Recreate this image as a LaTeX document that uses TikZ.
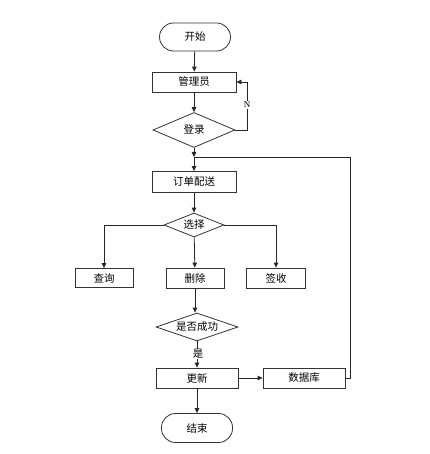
\documentclass[tikz,border=0pt]{standalone}
\usepackage{fontspec}
\newfontfamily\cjk{Noto Sans CJK SC}
\newfontfamily\latinserif{Liberation Serif}
\usetikzlibrary{arrows.meta,shapes.geometric}

\begin{document}
\begin{tikzpicture}[x=1pt, y=-1pt, font=\cjk\fontsize{10.5}{12}\selectfont,
    >={Triangle[length=5pt,width=4.5pt]}, line width=0.8pt,
    box/.style={draw=black!80, minimum width=84pt, minimum height=20pt, inner sep=0pt},
    term/.style={draw=black!80, rounded corners=14pt, minimum width=71pt,
      minimum height=28pt, inner sep=0pt},
    decision/.style={draw=black!80, diamond, aspect=3, inner sep=0pt},
    flow/.style={->, black!85}]
  \useasboundingbox (0,0) rectangle (429,454);

  %% Nodes
  \node[term] (start) at (195,37) {开始};
  \node[box] (admin) at (194,82) {管理员};
  \node[decision, minimum width=82pt, minimum height=35pt] (login) at (194,130) {登录};
  \coordinate (j) at (194,157);
  \node[box, minimum height=21pt] (order) at (194,182) {订单配送};
  \node[decision, minimum width=60pt, minimum height=24pt] (choose) at (194,225) {选择};
  \node[box, minimum width=58pt, minimum height=19pt] (query) at (104,278) {查询};
  \node[box, minimum width=58pt] (delete) at (195,278) {删除};
  \node[box, minimum width=59pt] (sign) at (276,278) {签收};
  \node[decision, minimum width=82pt, minimum height=28pt] (success) at (197,327) {是否成功};
  \node[box, minimum width=82pt] (update) at (197,378) {更新};
  \node[box, minimum width=82pt] (db) at (304,378) {数据库};
  \node[term, minimum height=29pt] (end) at (197,428) {结束};
  \coordinate (fb) at (350,157);

  %% Main flow
  \draw[flow] (start) -- (admin);
  \draw[flow] (admin) -- (login);
  \draw[flow] (login) -- (j);
  \draw[flow] (j) -- (order);
  \draw[flow] (order) -- (choose);
  \draw[flow] (choose.west) -| (query.north);
  \draw[flow] (choose) -- (delete);
  \draw[flow] (choose.east) -| (sign.north);
  \draw[flow] (delete.south) -- (delete.south |- success.north);
  \draw[flow] (success.south -| update.north) -- (update.north);
  \draw[flow] (update) -- (db);
  \draw[flow] (update) -- (end);

  %% Loops back
  \draw[flow] (login.east) -- ++(12,0) |- (admin.east);
  \node[fill=white, inner sep=1pt, font=\latinserif\fontsize{9}{10}\selectfont] (nlabel) at (247,105) {N};
  \draw[black!85] (db.east) -| (fb) -- (j);

  %% Labels
  \node[fill=white, inner sep=0.5pt] (yes) at (198,354) {是};
\end{tikzpicture}
\end{document}
